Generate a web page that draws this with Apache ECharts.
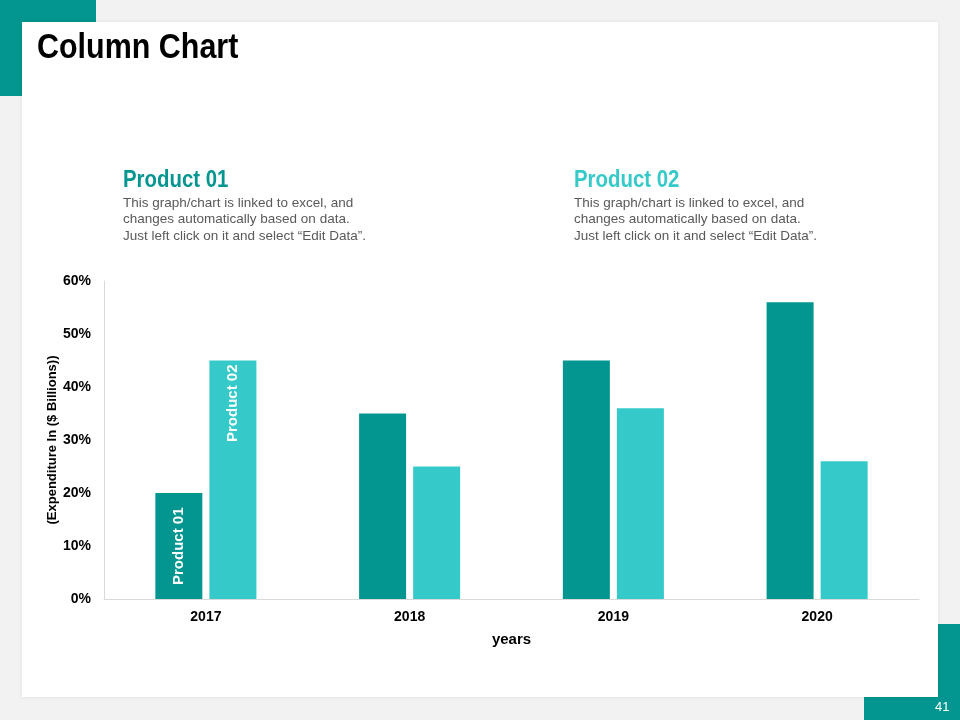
<!DOCTYPE html>
<html><head><meta charset="utf-8">
<style>html,body{margin:0;padding:0;background:#f2f2f2;}#c{width:960px;height:720px;}</style>
<script src="https://cdn.jsdelivr.net/npm/echarts@6/dist/echarts.min.js"></script>
</head><body><div id="c"></div>
<script>
const categories = ['2017', '2018', '2019', '2020'];
const product01 = [20, 35, 45, 56];
const product02 = [45, 25, 36, 26];
const yTicks = [0, 10, 20, 30, 40, 50, 60];
const yAxisTitle = '(Expenditure In ($ Billions))';
const xAxisTitle = 'years';

const dark = '#03958f';
const light = '#36c9c9';
const chart = echarts.init(document.getElementById('c'));
const desc = 'This graph/chart is linked to excel, and\nchanges automatically based on data.\nJust left click on it and select \u201cEdit Data\u201d.';

const p1Data = product01.map((v, i) => i === 0 ? {
  value: v,
  label: { show: true, position: 'insideBottom', rotate: 90, align: 'left', verticalAlign: 'middle', distance: 14,
    formatter: 'Product 01', color: '#fff', fontSize: 15, fontWeight: 'bold', fontFamily: 'Liberation Sans, Arial' }
} : v);
const p2Data = product02.map((v, i) => i === 0 ? {
  value: v,
  label: { show: true, position: 'insideTop', rotate: 90, align: 'right', verticalAlign: 'middle', distance: 4,
    formatter: 'Product 02', color: '#fff', fontSize: 15, fontWeight: 'bold', fontFamily: 'Liberation Sans, Arial' }
} : v);

chart.setOption({
  backgroundColor: '#f2f2f2',
  animation: false,
  graphic: [
    { type: 'rect', shape: { x: 0, y: 0, width: 96, height: 96 }, style: { fill: '#03958f' }, z: -20 },
    { type: 'rect', shape: { x: 864, y: 624, width: 96, height: 96 }, style: { fill: '#03958f' }, z: -20 },
    { type: 'rect', shape: { x: 22, y: 22, width: 916, height: 675 }, style: { fill: '#ffffff', shadowBlur: 4, shadowColor: 'rgba(0,0,0,0.08)' }, z: -10 },
    { type: 'text', x: 37, y: 31, scaleX: 0.87, z: 5, style: { text: 'Column Chart', fill: '#000', font: 'bold 35px "Liberation Sans", Arial' } },
    { type: 'text', x: 123, y: 168, scaleX: 0.85, z: 5, style: { text: 'Product 01', fill: dark, font: 'bold 24px "Liberation Sans", Arial' } },
    { type: 'text', x: 574, y: 168, scaleX: 0.85, z: 5, style: { text: 'Product 02', fill: light, font: 'bold 24px "Liberation Sans", Arial' } },
    { type: 'text', left: 123, top: 195, z: 5, style: { text: desc, fill: '#595959', font: '13.5px "Liberation Sans", Arial', lineHeight: 16.5 } },
    { type: 'text', left: 574, top: 195, z: 5, style: { text: desc, fill: '#595959', font: '13.5px "Liberation Sans", Arial', lineHeight: 16.5 } },
    { type: 'text', x: 52, y: 440, rotation: Math.PI / 2, z: 5, style: { text: yAxisTitle, fill: '#000', font: 'bold 13px "Liberation Sans", Arial', align: 'center', verticalAlign: 'middle' } },
    { type: 'text', left: 935, top: 701, z: 5, style: { text: '41', fill: '#fff', font: '13px "Liberation Sans", Arial' } }
  ],
  grid: { left: 104, right: 41, top: 281, bottom: 121, containLabel: false },
  xAxis: {
    type: 'category', data: categories,
    name: xAxisTitle, nameLocation: 'middle', nameGap: 33,
    nameTextStyle: { color: '#000', fontWeight: 'bold', fontSize: 15, fontFamily: 'Liberation Sans, Arial' },
    axisLine: { lineStyle: { color: '#d9d9d9' } }, axisTick: { show: false },
    axisLabel: { color: '#000', fontWeight: 'bold', fontSize: 14, margin: 11, fontFamily: 'Liberation Sans, Arial' }
  },
  yAxis: {
    type: 'value', min: yTicks[0], max: yTicks[yTicks.length - 1], interval: 10,
    axisLine: { show: true, lineStyle: { color: '#d9d9d9' } }, axisTick: { show: false },
    splitLine: { show: false },
    axisLabel: { color: '#000', fontWeight: 'bold', fontSize: 14, margin: 13, formatter: '{value}%', fontFamily: 'Liberation Sans, Arial' }
  },
  series: [
    { name: 'Product 01', type: 'bar', data: p1Data, barWidth: 47, barGap: '15%', itemStyle: { color: dark }, z: 3 },
    { name: 'Product 02', type: 'bar', data: p2Data, barWidth: 47, barGap: '15%', itemStyle: { color: light }, z: 3 }
  ]
});
</script></body></html>
